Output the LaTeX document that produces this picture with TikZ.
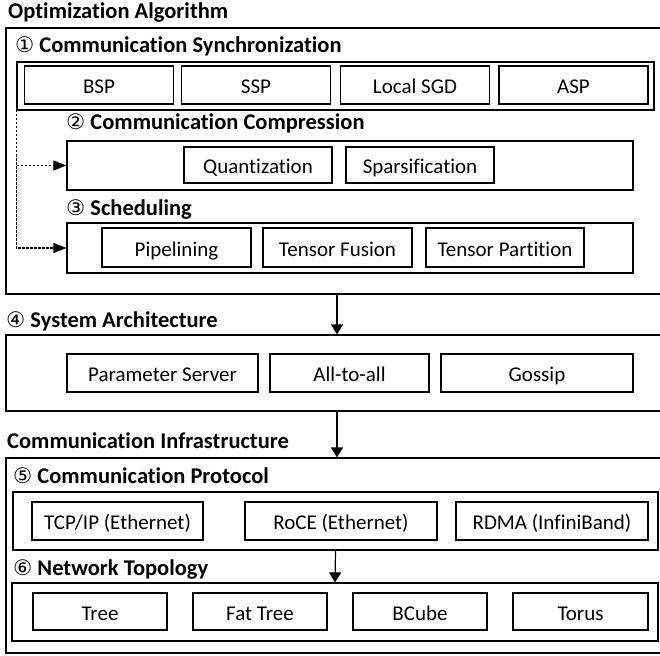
\documentclass[tikz,border=0pt]{standalone}
\usepackage{fontspec}
\setmainfont{Carlito}[Ligatures=NoCommon]
\newfontfamily\circfont[Scale=0.95]{DejaVu Sans}
\newcommand\stepno[1]{{\circfont\mdseries #1}}
\usetikzlibrary{arrows.meta}

\begin{document}
\begin{tikzpicture}[x=1pt, y=-1pt,
        every node/.style={font=\fontsize{21}{24}\selectfont, inner sep=0pt},
        box/.style={draw, line width=1.1pt, minimum height=38pt, text height=17pt, text depth=0pt},
        group/.style={draw, line width=1.2pt},
        head/.style={anchor=base west, font=\fontsize{22.5}{26}\selectfont\bfseries},
        link/.style={line width=1.2pt, -{Triangle[length=10pt, width=12pt]}},
        flow/.style={line width=1.1pt, dash pattern=on 2.5pt off 1.5pt, -{Triangle[length=13pt, width=10pt]}}]
        \clip (0,0) rectangle (660,655);

        % optimization algorithm
        \node[head] (optlbl) at (8,19) {Optimization Algorithm};
        \node[group, minimum width=656pt, minimum height=266pt] (opt) at (334,161) {};

        \node[head] (synclbl) at (15,53) {\stepno{①} Communication Synchronization};
        \node[group, minimum width=637pt, minimum height=48pt] (sync) at (335.5,86) {};
        \node[box, minimum width=149pt] (bsp) at (99,85) {BSP};
        \node[box, minimum width=149pt] (ssp) at (256,85) {SSP};
        \node[box, minimum width=149pt] (lsgd) at (415,85) {Local SGD};
        \node[box, minimum width=149pt] (asp) at (573.5,85) {ASP};

        \node[head] (complbl) at (66,130) {\stepno{②} Communication Compression};
        \node[group, minimum width=566pt, minimum height=49pt] (comp) at (350,165.5) {};
        \node[box, minimum width=148pt, minimum height=36pt] (quant) at (258,165) {Quantization};
        \node[box, minimum width=148pt, minimum height=36pt] (spars) at (420,165) {Sparsification};

        \node[head] (schedlbl) at (66,215) {\stepno{③} Scheduling};
        \node[group, minimum width=566pt, minimum height=50pt] (sched) at (350,248) {};
        \node[box, minimum width=149pt, minimum height=39pt] (pipe) at (176.5,247.5) {Pipelining};
        \node[box, minimum width=149pt, minimum height=39pt] (fusion) at (337.5,247.5) {Tensor Fusion};
        \node[box, minimum width=158pt, minimum height=39pt] (part) at (505,247.5) {Tensor Partition};

        \draw[flow] (sync.west) |- (comp.west);
        \draw[flow] (sync.west) |- (sched.west);

        % system architecture
        \node[head] (archlbl) at (6,327) {\stepno{④} System Architecture};
        \node[group, minimum width=656pt, minimum height=76pt] (arch) at (334,373) {};
        \node[box, minimum width=191pt] (ps) at (162.5,373) {Parameter Server};
        \node[box, minimum width=159pt] (a2a) at (349.5,373) {All-to-all};
        \node[box, minimum width=192pt] (gossip) at (537,373) {Gossip};

        \draw[link] (opt.south -| 337,0) -- (arch.north -| 337,0);

        % communication infrastructure
        \node[head] (infralbl) at (7,448) {Communication Infrastructure};
        \node[group, minimum width=656pt, minimum height=195pt] (infra) at (334,555.5) {};

        \draw[link] (arch.south -| 337,0) -- (infra.north -| 337,0);

        \node[head] (protlbl) at (13,483) {\stepno{⑤} Communication Protocol};
        \node[group, minimum width=645pt, minimum height=58pt] (prot) at (335.5,521) {};
        \node[box, minimum width=171pt] (tcp) at (117.5,521) {TCP/IP (Ethernet)};
        \node[box, minimum width=192pt] (roce) at (341,521) {RoCE (Ethernet)};
        \node[box, minimum width=192pt] (rdma) at (552,521) {RDMA (InfiniBand)};

        \node[head] (topolbl) at (13,575) {\stepno{⑥} Network Topology};
        \node[group, minimum width=646pt, minimum height=58pt] (topo) at (335,612) {};
        \node[box, minimum width=134pt, minimum height=37pt] (tree) at (100,611.5) {Tree};
        \node[box, minimum width=134pt, minimum height=37pt] (fattree) at (260,611.5) {Fat Tree};
        \node[box, minimum width=134pt, minimum height=37pt] (bcube) at (420,611.5) {BCube};
        \node[box, minimum width=135pt, minimum height=37pt] (torus) at (580.5,611.5) {Torus};

        \draw[link] (prot.south) -- (topo.north);
    \end{tikzpicture}
\end{document}
